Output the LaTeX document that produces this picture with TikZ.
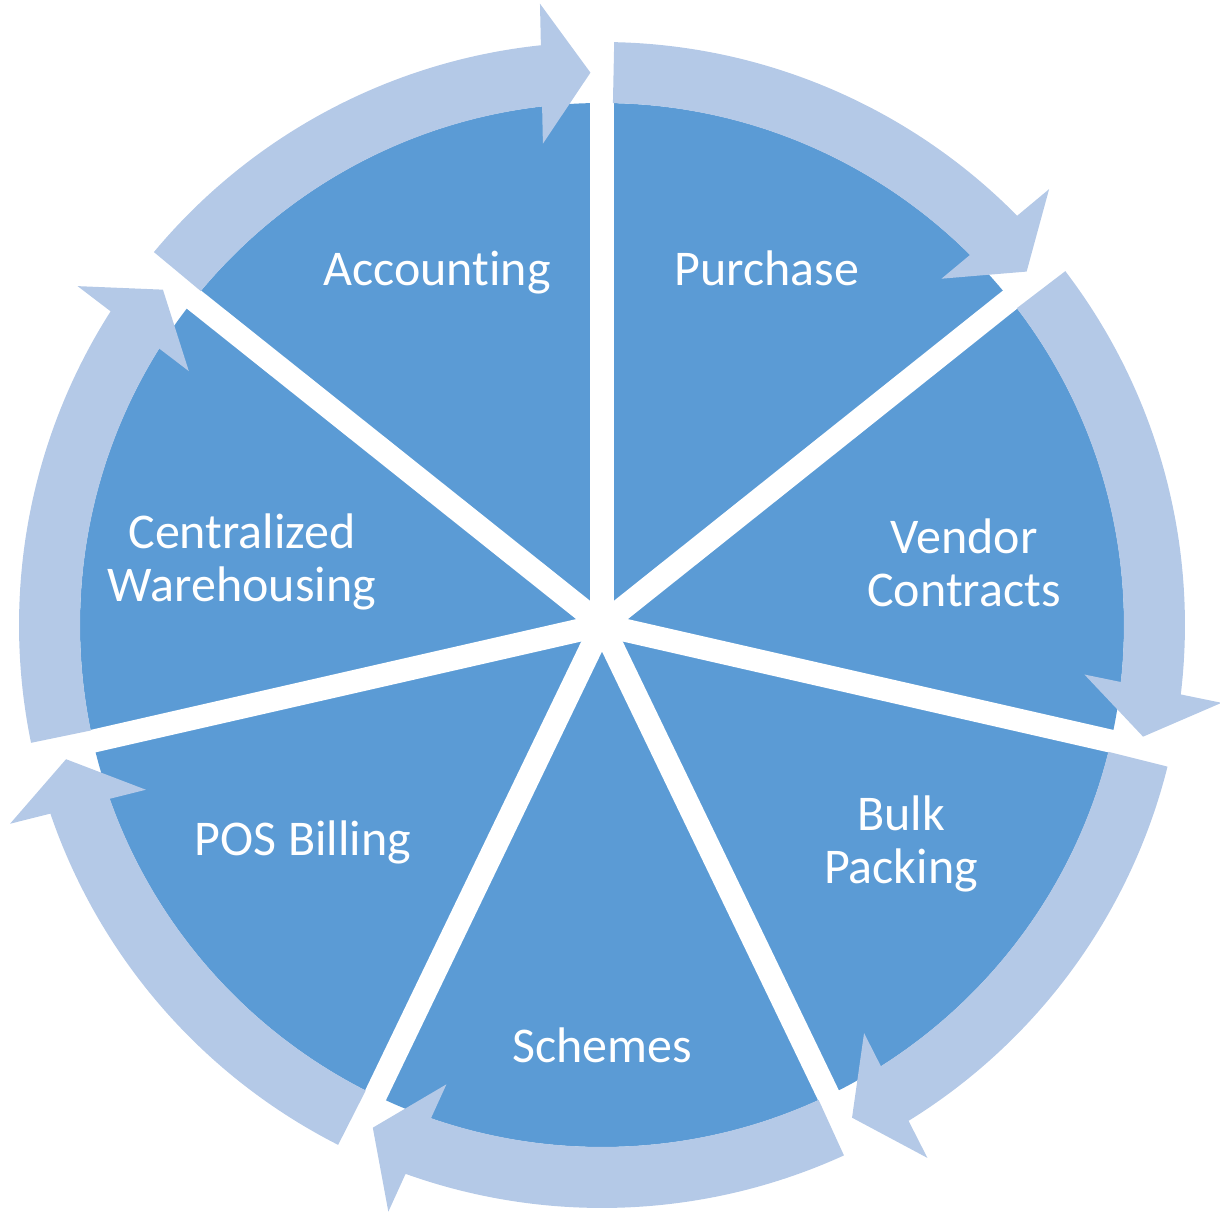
\documentclass[tikz,border=0pt]{standalone}
\usepackage{fontspec}
\setmainfont[Ligatures={NoCommon,NoContextual}]{Carlito}
\usetikzlibrary{positioning}
\definecolor{pieblue}{HTML}{5B9BD5}
\definecolor{ringblue}{HTML}{B4C9E7}
\tikzset{
  gap/.style={draw=white, line width=11.5pt},
  seglabel/.style={text=white, font=\fontsize{25}{26.5}\selectfont, align=center, anchor=base},
  cyclearrow/.pic={
    \fill[ringblue] (552.5,0) -- (622.5,49) -- (4.82:583)
      arc[start angle=4.82, end angle=49.03, radius=583] -- (49.03:522)
      arc[start angle=49.03, end angle=5.39, radius=522] -- (482.5,49) -- cycle;
  }
}

\begin{document}
\begin{tikzpicture}[x=0.5pt,y=0.5pt]
\useasboundingbox (-602,-586) rectangle (618,625);
\coordinate (c) at (0,0);
\fill[pieblue] (c) circle[radius=522];
\draw[gap] (c) -- (90:530);
\draw[gap] (c) -- (38.571:530);
\draw[gap] (c) -- (-12.857:530);
\draw[gap] (c) -- (-64.286:530);
\draw[gap] (c) -- (-115.714:530);
\draw[gap] (c) -- (-167.143:530);
\draw[gap] (c) -- (141.429:530);
\pic[rotate=91.2] (accarrow) at (c) {cyclearrow};
\pic[rotate=39.77] (purarrow) at (c) {cyclearrow};
\pic[rotate=-11.66] (venarrow) at (c) {cyclearrow};
\pic[rotate=-63.09] (bulkarrow) at (c) {cyclearrow};
\pic[rotate=-114.51] (scharrow) at (c) {cyclearrow};
\pic[rotate=-165.94] (posarrow) at (c) {cyclearrow};
\pic[rotate=142.63] (wararrow) at (c) {cyclearrow};
\node[seglabel] (acc) at (-165,339) {Account\kern0pt ing};
\node[seglabel] (pur) at (165,339) {Purchase};
\node[seglabel] (ven) at (362,19) {Vendor\\Contracts};
\node[seglabel] (bulk) at (299,-258) {Bulk\\Packing};
\node[seglabel] (sch) at (0,-437) {Schemes};
\node[seglabel] (pos) at (-299,-230) {POS Billing};
\node[seglabel] (war) at (-360,24) {Centralized\\Warehousing};
\end{tikzpicture}
\end{document}
